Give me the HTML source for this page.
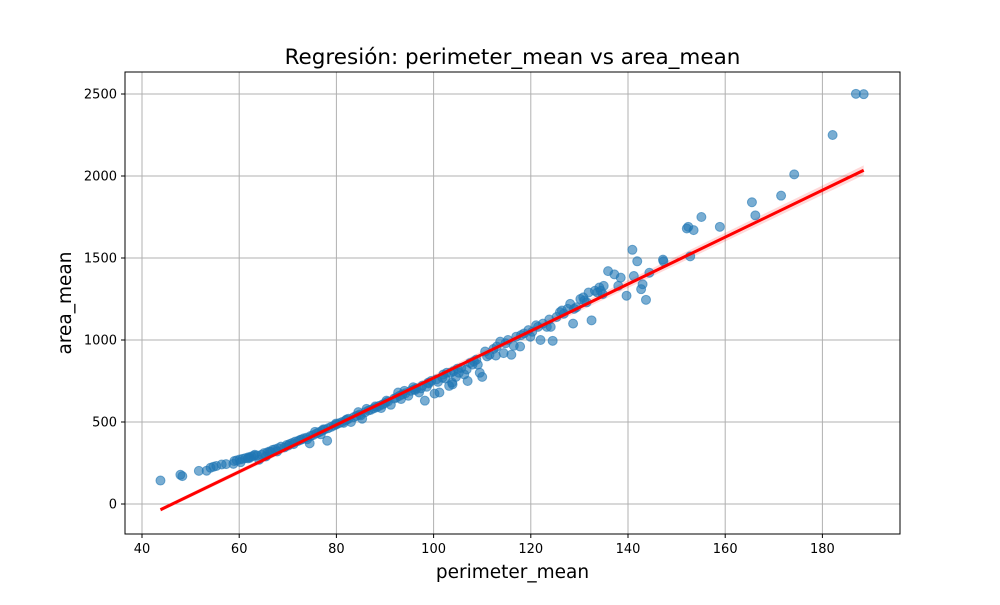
<!DOCTYPE html>
<html><head><meta charset="utf-8"><style>
body{margin:0;background:#fff;font-family:"Liberation Sans","DejaVu Sans",sans-serif}
</style></head><body>
<svg id="chart" width="1000" height="600" xmlns="http://www.w3.org/2000/svg" style="font-family:'DejaVu Sans','Liberation Sans',sans-serif">
<rect width="1000" height="600" fill="#fff"/>
<text x="512.5" y="64" text-anchor="middle" font-size="21.5">Regresión: perimeter_mean vs area_mean</text>
<text x="512.5" y="578" text-anchor="middle" font-size="18.5">perimeter_mean</text>
<text transform="translate(71,303) rotate(-90)" text-anchor="middle" font-size="18.5">area_mean</text>
<g id="grid"></g><g id="band"></g><g id="pts"></g><g id="fit"></g><g id="ticks"></g>
<rect x="125" y="72" width="775" height="462" fill="none" stroke="#000" stroke-width="1"/>
</svg>
<script>
const xTicks=[40,60,80,100,120,140,160,180];
const yTicks=[0,500,1000,1500,2000,2500];
const perimeter=[43.8,47.9,48.3,51.7,53.3,54.1,54.7,55.3,56.4,57.3,58.8,59.0,59.5,60.1,60.7,61.3,61.9,62.5,63.0,63.7,64.1,64.6,65.1,65.8,66.2,66.9,67.4,68.0,68.6,69.3,69.8,70.4,70.9,71.5,72.1,72.8,73.3,73.9,74.5,74.7,75.2,75.9,76.4,77.0,77.6,78.1,78.3,78.9,79.5,80.0,80.6,81.2,81.9,82.5,83.0,83.6,84.1,84.8,85.3,85.9,86.6,87.1,87.7,88.3,88.8,89.5,90.0,90.6,91.2,91.9,92.4,93.0,93.6,94.2,94.8,95.3,96.0,96.5,97.0,97.7,98.2,98.9,99.5,100.2,100.6,101.2,102.0,102.7,103.2,103.8,104.1,104.9,105.7,106.3,107.0,107.5,108.3,108.8,109.5,110.0,110.6,111.5,112.3,113.0,113.7,114.4,115.3,116.0,117.0,117.8,118.6,119.5,120.3,121.1,122.0,122.5,123.3,123.8,124.5,125.3,126.0,126.8,127.6,128.1,128.7,129.4,130.2,131.0,131.9,132.5,133.2,134.1,134.8,135.9,137.2,138.0,138.5,139.7,140.9,141.2,141.9,142.7,143.0,143.7,144.4,147.2,147.3,152.1,152.4,152.8,153.5,155.1,158.9,165.5,166.2,171.5,174.2,182.1,186.9,188.5,60.3,61.8,63.2,65.5,67.8,70.1,72.5,75.6,77.3,79.9,82.1,84.5,86.2,88.0,90.3,92.7,94.0,95.8,97.4,99.0,101.8,103.5,105.2,108.0,111.0,114.8,118.0,121.5,126.4,130.8,133.7,135.0,62.2,66.5,71.2,74.0,76.8,81.5,85.0,89.2,93.3,96.2,98.6,100.9,102.4,103.9,104.6,106.8,109.1,112.8,116.5,119.9,124.1,128.9,131.5,134.4];
const area=[143,178,170,202,203,221,227,232,241,243,245,262,266,271,275,280,285,290,294,296,270,300,310,315,320,330,334,340,350,345,360,366,372,380,384,393,400,405,370,415,420,430,438,446,455,386,462,470,478,485,493,500,510,520,500,530,537,546,520,560,570,575,583,590,598,607,615,625,605,643,650,660,668,675,660,690,700,706,680,722,630,740,750,673,760,680,790,800,720,740,810,825,830,790,750,860,870,880,800,775,930,910,945,960,990,920,1000,910,1020,960,1040,1060,1050,1090,1000,1100,1080,1125,995,1140,1170,1160,1190,1220,1100,1200,1250,1240,1290,1120,1300,1320,1280,1420,1400,1330,1380,1270,1550,1390,1480,1310,1340,1245,1410,1490,1480,1680,1690,1510,1670,1750,1690,1840,1760,1880,2010,2250,2501,2499,255,278,300,290,320,356,390,440,455,490,515,560,580,595,630,680,690,712,705,735,770,800,800,850,900,980,1030,1080,1180,1260,1290,1330,282,318,365,395,425,495,540,585,640,695,715,745,765,730,775,820,850,905,965,1020,1080,1190,1230,1300];
const fitX=[43.8,188.5];
const fitY=[-35,2035];
const bandW=[12,30];
const X=v=>142+(v-40)*4.86, Y=v=>504-v*0.164;
const NS="http://www.w3.org/2000/svg";
function mk(t,a,p){const e=document.createElementNS(NS,t);for(const k in a)e.setAttribute(k,a[k]);document.getElementById(p).appendChild(e);return e;}
xTicks.forEach(t=>{
 const g=mk('line',{x1:X(t),x2:X(t),y1:72,y2:534,stroke:'#b0b0b0','stroke-width':1},'grid');
 
 
 mk('line',{x1:X(t),x2:X(t),y1:534,y2:538,stroke:'#000'},'ticks');
 const l=mk('text',{x:X(t),y:553,'text-anchor':'middle','font-size':13},'ticks');l.textContent=t;
 
 
});
yTicks.forEach(t=>{
 const g=mk('line',{x1:125,x2:900,y1:Y(t),y2:Y(t),stroke:'#b0b0b0','stroke-width':1},'grid');
 
 
 mk('line',{x1:121,x2:125,y1:Y(t),y2:Y(t),stroke:'#000'},'ticks');
 const l=mk('text',{x:117,y:Y(t)+4.5,'text-anchor':'end','font-size':13},'ticks');l.textContent=t;
 
 
});
const band=mk('polygon',{points:`${X(fitX[0])},${Y(fitY[0]+bandW[0])} ${X(fitX[1])},${Y(fitY[1]+bandW[1])} ${X(fitX[1])},${Y(fitY[1]-bandW[1])} ${X(fitX[0])},${Y(fitY[0]-bandW[0])}`,fill:'#ff0000','fill-opacity':0.15},'band');


perimeter.forEach((p,i)=>{
 const c=mk('circle',{cx:X(p),cy:Y(area[i]),r:4.5,fill:'#1f77b4','fill-opacity':0.6,stroke:'#1f77b4','stroke-opacity':0.6,'stroke-width':1},'pts');
 
 
});
const f=mk('line',{x1:X(fitX[0]),y1:Y(fitY[0]),x2:X(fitX[1]),y2:Y(fitY[1]),stroke:'#ff0000','stroke-width':3},'fit');


</script>
</body></html>
